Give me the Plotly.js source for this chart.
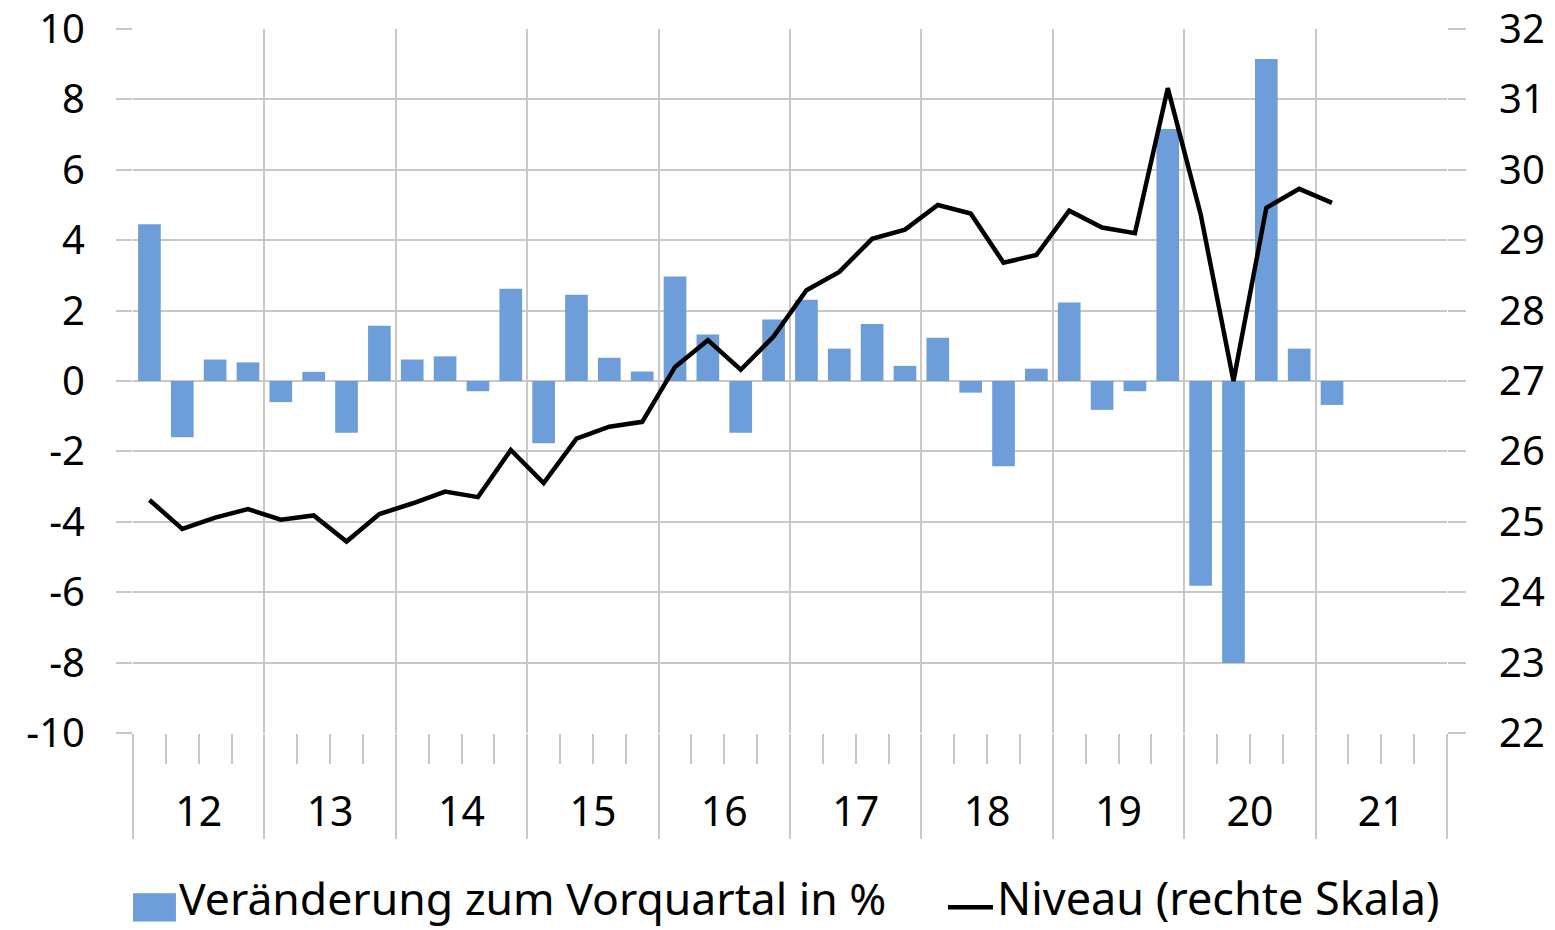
<!DOCTYPE html>
<html>
<head>
<meta charset="utf-8">
<script src="https://cdn.plot.ly/plotly-3.0.1.min.js"></script>
<style>
  html, body { margin: 0; padding: 0; background: #ffffff; }
  #chart { width: 1555px; height: 930px; }
</style>
</head>
<body>
<div id="chart"></div>
<script>
// ---- data ----
const years = ['12', '13', '14', '15', '16', '17', '18', '19', '20', '21'];
const quarters = ['Q1', 'Q2', 'Q3', 'Q4'];

// Veränderung zum Vorquartal in % (left axis), 2012Q1 .. 2021Q4
const changePct = [
  4.45, -1.60, 0.61, 0.53,
  -0.60, 0.26, -1.47, 1.57,
  0.61, 0.70, -0.29, 2.62,
  -1.77, 2.45, 0.66, 0.27,
  2.97, 1.32, -1.47, 1.75,
  2.31, 0.92, 1.62, 0.43,
  1.23, -0.33, -2.42, 0.35,
  2.23, -0.82, -0.29, 7.16,
  -5.82, -8.01, 9.15, 0.92,
  -0.68, null, null, null
];

// Niveau (right axis)
const level = [
  25.31, 24.90, 25.06, 25.18,
  25.03, 25.09, 24.72, 25.11,
  25.26, 25.43, 25.35, 26.02,
  25.55, 26.18, 26.35, 26.42,
  27.20, 27.58, 27.16, 27.63,
  28.29, 28.55, 29.02, 29.15,
  29.50, 29.38, 28.68, 28.79,
  29.42, 29.18, 29.10, 31.16,
  29.37, 27.00, 29.46, 29.73,
  29.53, null, null, null
];

const leftTickVals = [-10, -8, -6, -4, -2, 0, 2, 4, 6, 8, 10];
const leftTickText = ['-10', '-8', '-6', '-4', '-2', '0', '2', '4', '6', '8', '10'];
const rightTickVals = [22, 23, 24, 25, 26, 27, 28, 29, 30, 31, 32];
const rightTickText = ['22', '23', '24', '25', '26', '27', '28', '29', '30', '31', '32'];

const seriesNames = ['Veränderung zum Vorquartal in %', 'Niveau (rechte Skala)'];

// ---- derived ----
const quarterLabels = [];
years.forEach(y => quarters.forEach(q => quarterLabels.push(y + ' ' + q)));
const xIdx = quarterLabels.map((_, i) => i);
const yearCenters = years.map((_, k) => k * 4 + 1.5);

const FONT = 'Noto Sans, Open Sans, DejaVu Sans, sans-serif';
const GRID = '#c8c8c8';
const BAR = '#6d9eda';
const FS = 40;
const LFS = 44.5;
const xRange = [-0.5, quarterLabels.length - 0.5];

const traces = [
  {
    type: 'bar',
    name: seriesNames[0],
    x: xIdx,
    y: changePct,
    hovertext: quarterLabels,
    textposition: 'none',
    hovertemplate: '%{hovertext}: %{y}<extra></extra>',
    marker: { color: BAR, line: { width: 0 } },
    width: 0.69,
    xaxis: 'x',
    yaxis: 'y'
  },
  {
    type: 'scatter',
    mode: 'lines',
    name: seriesNames[1],
    x: xIdx,
    y: level,
    hovertext: quarterLabels,
    hovertemplate: '%{hovertext}: %{y}<extra></extra>',
    line: { color: '#000000', width: 4.5 },
    connectgaps: false,
    xaxis: 'x2',
    yaxis: 'y2'
  }
];

const layout = {
  width: 1555,
  height: 930,
  margin: { l: 133, r: 108, t: 29, b: 197 },
  paper_bgcolor: '#ffffff',
  plot_bgcolor: '#ffffff',
  showlegend: false,
  font: { family: FONT, size: FS, color: '#000000' },
  xaxis: {
    range: xRange,
    tickmode: 'linear',
    tick0: -0.5,
    dtick: 4,
    showticklabels: false,
    ticks: 'outside',
    ticklen: 105,
    tickwidth: 1.5,
    tickcolor: GRID,
    showgrid: true,
    gridcolor: GRID,
    gridwidth: 1.5,
    zeroline: false,
    showline: false,
    fixedrange: true,
    minor: {
      tick0: -0.5,
      dtick: 1,
      ticks: 'outside',
      ticklen: 30,
      tickwidth: 1.5,
      tickcolor: GRID,
      showgrid: false
    }
  },
  xaxis2: {
    overlaying: 'x',
    anchor: 'y2',
    side: 'bottom',
    range: xRange,
    tickmode: 'array',
    tickvals: yearCenters,
    ticktext: years,
    ticks: '',
    showgrid: false,
    zeroline: false,
    showline: false,
    ticklabelstandoff: 51,
    ticklabeloverflow: 'allow',
    tickfont: { family: FONT, size: FS + 1, color: '#000000' },
    fixedrange: true
  },
  yaxis: {
    range: [-10, 10],
    tickmode: 'array',
    tickvals: leftTickVals,
    ticktext: leftTickText,
    ticks: 'outside',
    ticklen: 16,
    tickwidth: 1.5,
    tickcolor: GRID,
    showgrid: true,
    gridcolor: GRID,
    gridwidth: 1.5,
    zeroline: false,
    showline: false,
    ticklabelstandoff: 23,
    ticklabeloverflow: 'allow',
    tickfont: { family: FONT, size: FS, color: '#000000' },
    fixedrange: true
  },
  yaxis2: {
    overlaying: 'y',
    anchor: 'x2',
    side: 'right',
    range: [22, 32],
    tickmode: 'array',
    tickvals: rightTickVals,
    ticktext: rightTickText,
    ticks: 'outside',
    ticklen: 18,
    tickwidth: 1.5,
    tickcolor: GRID,
    showgrid: false,
    zeroline: false,
    showline: false,
    ticklabelstandoff: 25,
    ticklabeloverflow: 'allow',
    tickfont: { family: FONT, size: FS, color: '#000000' },
    fixedrange: true
  },
  shapes: [
    { type: 'rect', xref: 'paper', yref: 'paper', x0: 0.0, x1: 0.0327, y0: -0.2676, y1: -0.2276,
      fillcolor: BAR, line: { width: 0 } },
    { type: 'line', xref: 'paper', yref: 'paper', x0: 0.6202, x1: 0.6545, y0: -0.2475, y1: -0.2475,
      line: { color: '#000000', width: 4.5 } }
  ],
  annotations: [
    { xref: 'paper', yref: 'paper', x: 0.0335, y: -0.2800, xanchor: 'left', yanchor: 'bottom',
      text: seriesNames[0], showarrow: false, font: { family: FONT, size: LFS, color: '#000000' } },
    { xref: 'paper', yref: 'paper', x: 0.6560, y: -0.2800, xanchor: 'left', yanchor: 'bottom',
      text: seriesNames[1], showarrow: false, font: { family: FONT, size: 45, color: '#000000' } }
  ]
};

Plotly.newPlot('chart', traces, layout, { displayModeBar: false });
</script>
</body>
</html>
